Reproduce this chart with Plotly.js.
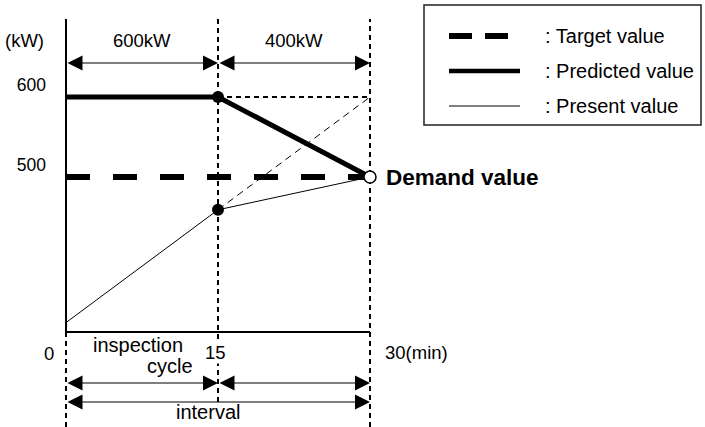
<!DOCTYPE html>
<html>
<head>
<meta charset="utf-8">
<script src="https://cdn.plot.ly/plotly-3.0.1.min.js"></script>
<style>
  html,body{margin:0;padding:0;background:#fff;}
  #chart{width:705px;height:427px;}
</style>
</head>
<body>
<div id="chart"></div>
<script>
// demand control diagram: one 30 min interval, checked every 15 min
const timeMin = [0, 15, 30];
const targetKW = [480, 480, 480];
const predictedKW = [580, 580, 480];
const presentKW = [298, 439, 480];
const projectedTime = [15, 30];
const projectedKW = [439, 580];
const yTickVals = [500, 600];
const yTickText = ['500', '600'];
const spanLabels = ['600kW', '400kW'];
const legendLabels = [': Target value', ': Predicted value', ': Present value'];

const FONT = 'Liberation Sans, Arial, Helvetica, sans-serif';
const xRange = [-6.513, 63.06];
const yRange = [167.5, 701.25];
const yBase = 286.25;   // bottom axis
const yTop = 677.5;     // top of guides
const yArrowTop = 622.5, yArrowCycle = 222.5, yArrowInterval = 198.75;

// pixel -> paper helpers for the legend box
const W = 705, H = 427;
const px = v => v / W;
const py = v => 1 - v / H;

const traces = [
  { x: timeMin, y: targetKW, mode: 'lines', line: { color: '#000', width: 6, dash: '24px,23px' } },
  { x: projectedTime, y: projectedKW, mode: 'lines', line: { color: '#000', width: 1, dash: '7px,5px' } },
  { x: timeMin, y: presentKW, mode: 'lines', line: { color: '#000', width: 1 } },
  { x: timeMin, y: predictedKW, mode: 'lines', line: { color: '#000', width: 5 } },
  { x: [timeMin[1], timeMin[1]], y: [predictedKW[1], presentKW[1]], mode: 'markers',
    marker: { color: '#000', size: 12 } },
  { x: [timeMin[2]], y: [targetKW[2]], mode: 'markers',
    marker: { color: '#fff', size: 12, line: { color: '#000', width: 1.5 } } }
];

const dotted = { color: '#000', width: 2, dash: '5px,4px' };
const shapes = [
  // axis lines
  { type: 'line', x0: 0, x1: 0, y0: yBase, y1: yTop, line: { color: '#000', width: 2 }, layer: 'below' },
  { type: 'line', x0: 0, x1: 30, y0: yBase, y1: yBase, line: { color: '#000', width: 2 }, layer: 'below' },
  // guides
  { type: 'line', x0: 0, x1: 0, y0: yRange[0], y1: yBase, line: dotted, layer: 'below' },
  { type: 'line', x0: 15, x1: 15, y0: yArrowInterval, y1: yTop, line: dotted, layer: 'below' },
  { type: 'line', x0: 30, x1: 30, y0: yRange[0], y1: yTop, line: dotted, layer: 'below' },
  { type: 'line', x0: 15, x1: 30, y0: 580, y1: 580, line: dotted, layer: 'below' },
  // legend box
  { type: 'rect', xref: 'paper', yref: 'paper', x0: px(424), x1: px(701), y0: py(125), y1: py(5),
    line: { color: '#222', width: 1.5 } },
  { type: 'line', xref: 'paper', yref: 'paper', x0: px(449), x1: px(508), y0: py(36), y1: py(36),
    line: { color: '#000', width: 6, dash: '23px,13px' } },
  { type: 'line', xref: 'paper', yref: 'paper', x0: px(449), x1: px(520), y0: py(71), y1: py(71),
    line: { color: '#000', width: 4.5 } },
  { type: 'line', xref: 'paper', yref: 'paper', x0: px(449), x1: px(520), y0: py(106), y1: py(106),
    line: { color: '#000', width: 1 } }
];

function span(x0, x1, y) {
  return { x: x1, y: y, ax: x0, ay: y, xref: 'x', yref: 'y', axref: 'x', ayref: 'y',
    showarrow: true, arrowside: 'end+start', arrowhead: 2, startarrowhead: 2,
    arrowsize: 2.5, startarrowsize: 2.5, arrowwidth: 1.2, arrowcolor: '#000', font: { size: 1 } };
}

function label(text, x, y, opts) {
  return Object.assign({ text: text, x: x, y: y, xref: 'x', yref: 'y', showarrow: false,
    font: { family: FONT, size: 18.5, color: '#000' } }, opts || {});
}

const bigFont = { family: FONT, size: 20, color: '#000' };
const annotations = [
  span(0, 15, yArrowTop), span(15, 30, yArrowTop),
  span(0, 15, yArrowCycle), span(15, 30, yArrowCycle),
  span(0, 30, yArrowInterval),
  label('(kW)', -4.05, 651),
  label(spanLabels[0], 7.5, 651),
  label(spanLabels[1], 22.5, 651),
  label('0', -1.7, 260),
  label('15', 14.8, 261, { bgcolor: '#fff', borderpad: 0 }),
  label('30(min)', 31.25, 261, { xanchor: 'left' }),
  label('inspection', 7.1, 270, { font: bigFont }),
  label('cycle', 10.26, 243.75, { font: bigFont }),
  label('interval', 14.0, 186.25, { font: bigFont }),
  label('Demand value', 31.35, 480, { xanchor: 'left',
    font: { family: FONT, size: 22.5, color: '#000', weight: 'bold' } })
];
legendLabels.forEach((t, i) => {
  annotations.push({ text: t, xref: 'paper', yref: 'paper', x: px(543), y: py([36, 71, 106][i]),
    xanchor: 'left', yanchor: 'middle', showarrow: false,
    font: { family: FONT, size: 20, color: '#000' } });
});

const layout = {
  width: W, height: H,
  margin: { l: 0, r: 0, t: 0, b: 0 },
  paper_bgcolor: '#fff', plot_bgcolor: '#fff',
  showlegend: false,
  font: { family: FONT, size: 17.5, color: '#000' },
  xaxis: { range: xRange, visible: false, fixedrange: true },
  yaxis: { range: yRange, anchor: 'free', position: px(66), side: 'left',
    showgrid: false, zeroline: false, showline: false, ticks: '',
    tickvals: yTickVals, ticktext: yTickText, ticklabelstandoff: 20, ticklabelshift: 4,
    tickfont: { family: FONT, size: 17.5, color: '#000' }, fixedrange: true },
  shapes: shapes,
  annotations: annotations
};

Plotly.newPlot('chart', traces, layout, { staticPlot: true, displayModeBar: false });
</script>
</body>
</html>
